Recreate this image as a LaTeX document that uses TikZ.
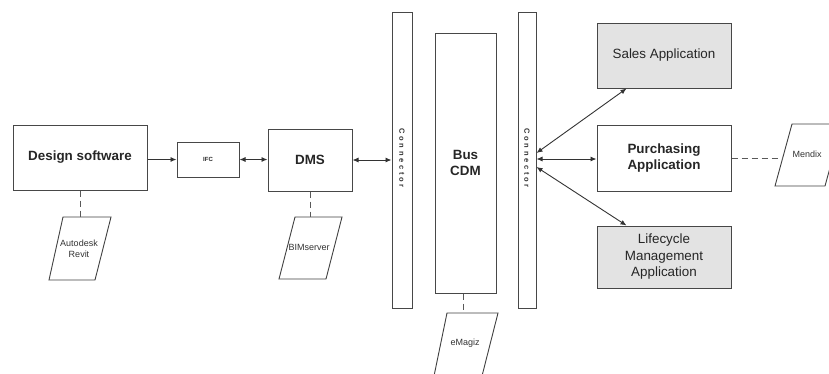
\documentclass[tikz,border=0pt]{standalone}
\usepackage{fontspec}
\setmainfont{Liberation Sans}
\usetikzlibrary{arrows.meta,calc}
\begin{document}
\begin{tikzpicture}[x=1pt,y=-1pt,
  box/.style={draw=black!72, line width=1pt, inner sep=2pt, align=center, text=black!85},
  appfill/.style={fill=black!11},
  big/.style={font=\fontsize{13.4}{16}\selectfont},
  bigb/.style={font=\bfseries\fontsize{13.4}{16}\selectfont},
  small/.style={font=\fontsize{9}{11}\selectfont, align=center, inner sep=0pt, text=black!80},
  conntext/.style={rotate=-90, inner sep=0pt, text=black!80, font=\bfseries\fontsize{7.5}{8}\selectfont\addfontfeature{LetterSpace=37}},
  link/.style={draw=black!80, line width=0.9pt},
  tip/.style={},
  arr/.style={link, -{Latex[length=6pt,width=5pt]}},
  darr/.style={link, {Latex[length=6pt,width=5pt]}-{Latex[length=6pt,width=5pt]}},
  dashlink/.style={draw=black!65, line width=0.9pt, dash pattern=on 6pt off 4pt},
  para/.style={draw=black!75, line width=0.9pt, fill=white}
]
\useasboundingbox (0,0) rectangle (829,373);
\clip (0,0) rectangle (829,373);

% main boxes
\node[box, bigb, minimum width=134pt, minimum height=65pt] (ds) at (80,157.5) {Design software};
\node[box, font=\bfseries\fontsize{6}{7}\selectfont, minimum width=62pt, minimum height=35pt] (ifc) at (208,159.5) {IFC};
\node[box, bigb, minimum width=84pt, minimum height=62pt] (dms) at (310,160) {DMS};
\node[box, minimum width=20pt, minimum height=296pt] (c1) at (402,160) {};
\node[conntext] (c1t) at (402,158) {Connector};
\node[box, bigb, minimum width=61pt, minimum height=260pt] (bus) at (465.5,163) {Bus\\CDM};
\node[box, minimum width=18pt, minimum height=296pt] (c2) at (527,160) {};
\node[conntext] (c2t) at (527,158) {Connector};
\node[box, appfill, big, minimum width=134pt, minimum height=65pt] (sales) at (664,55.5) {Sales Application};
\node[box, bigb, minimum width=134pt, minimum height=66pt] (pur) at (664,158) {Purchasing\\Application};
\node[box, appfill, big, minimum width=134pt, minimum height=62pt, font=\fontsize{13.4}{16.5}\selectfont] (lc) at (664,257) {Lifecycle\\Management\\Application};

% parallelograms
\draw[para] (63,217) -- (111,217) -- (95,280) -- (49,280) -- cycle;
\node[small] (revit) at (79,249) {Autodesk\\Revit};
\draw[para] (295,217) -- (342,217) -- (326,279) -- (279,279) -- cycle;
\node[small] (bim) at (309,247) {BIMserver};
\draw[para] (447,313) -- (498,313) -- (482,376) -- (434,376) -- cycle;
\node[small] (emagiz) at (465,343) {eMagiz};
\draw[para] (792,124) -- (842,124) -- (825,186) -- (775,186) -- cycle;
\node[small] (mendix) at (807,154) {Mendix};

\coordinate (revitTop) at (80,217);
\coordinate (bimTop) at (310,217);
\coordinate (emagizTop) at (463,313);
\coordinate (mendixL) at (783,158);

% arrows
\draw[arr] (ifc.west -| ds.east) -- (ifc.west);
\draw[darr] (ifc.east) -- (ifc.east -| dms.west);
\draw[darr] (dms.east) -- (dms.east -| c1.west);
\coordinate (p1) at ($(c2.east)+(0,-7)$);
\coordinate (p2) at ($(c2.east)+(0,-1)$);
\coordinate (p3) at ($(c2.east)+(0,7)$);
\draw[darr] (p1) -- ($(sales.south west)+(30,0)$);
\draw[darr] (p2) -- (p2 -| pur.west);
\draw[darr] (p3) -- ($(lc.north west)+(30,0)$);

% dashed links
\draw[dashlink] (ds.south) -- (revitTop);
\draw[dashlink] (dms.south) -- (bimTop);
\draw[dashlink] (emagizTop |- bus.south) -- (emagizTop);
\draw[dashlink] (pur.east) -- (mendixL);
\end{tikzpicture}
\end{document}
